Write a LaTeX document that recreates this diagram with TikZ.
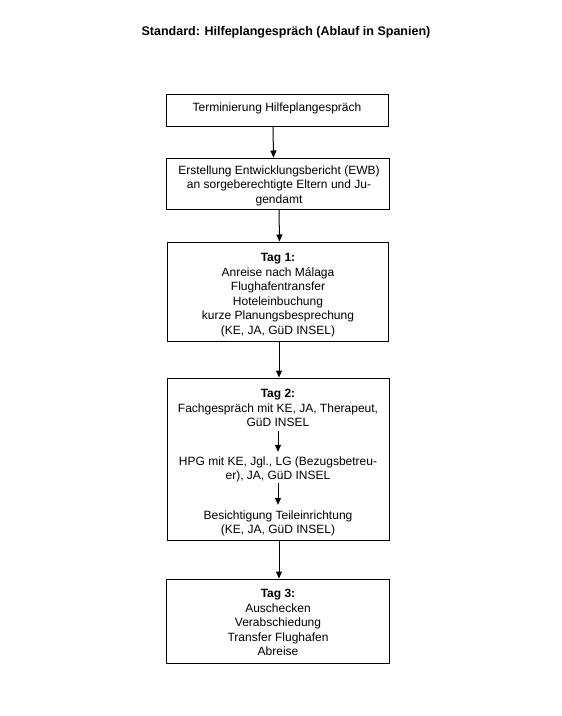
\documentclass[tikz,border=0pt]{standalone}
\usepackage{fontspec}
\setmainfont{Liberation Sans}
\usetikzlibrary{arrows.meta}
\begin{document}
\begin{tikzpicture}[x=1pt,y=-1pt,
  box/.style={draw, line width=1pt, inner sep=0pt},
  txt/.style={align=center, font=\fontsize{12}{14.5}\selectfont, inner sep=0pt},
  ttl/.style={font=\fontsize{12.5}{14}\selectfont\bfseries, inner sep=0pt},
  arr/.style={-{Triangle[length=7pt,width=6pt]}, line width=1pt}]
\useasboundingbox (0,0) rectangle (562,716);
\fill[white] (0,0) rectangle (562,716);

\node[ttl, anchor=base] (title) at (286,35) {Standard: Hilfeplangespräch (Ablauf in Spanien)};

\node[box, minimum width=222pt, minimum height=32pt] (b1) at (277,110) {};
\node[box, minimum width=223pt, minimum height=51pt] (b2) at (277.5,183.5) {};
\node[box, minimum width=221pt, minimum height=99.5pt] (b3) at (278,291.75) {};
\node[box, minimum width=222pt, minimum height=162pt] (b4) at (278,459) {};
\node[box, minimum width=223pt, minimum height=84pt] (b5) at (277.5,621) {};

\node[txt, anchor=base] (t1) at (277,111.5) {Terminierung Hilfeplangespräch};
\node[txt] (t2) at (279,185.85) {Erstellung Entwicklungsbericht (EWB)\\an sorgeberechtigte Eltern und Ju-\\gendamt};
\node[txt] (t3) at (278,294.95) {\textbf{Tag 1:}\\[0.5pt]Anreise nach Málaga\\Flughafentransfer\\Hoteleinbuchung\\kurze Planungsbesprechung\\(KE, JA, GüD INSEL)};
\node[txt] (t4a) at (278,407.95) {\textbf{Tag 2:}\\[0.5pt]Fachgespräch mit KE, JA, Therapeut,\\GüD INSEL};
\node[txt] (t4b) at (278,469.35) {HPG mit KE, Jgl., LG (Bezugsbetreu-\\er), JA, GüD INSEL};
\node[txt] (t4c) at (278,523.35) {Besichtigung Teileinrichtung\\(KE, JA, GüD INSEL)};
\node[txt] (t5) at (278,622.45) {\textbf{Tag 3:}\\[0.5pt]Auschecken\\Verabschiedung\\Transfer Flughafen\\Abreise};

\draw[arr] ([xshift=-4pt]b1.south) -- ([xshift=-4pt]b2.north);
\draw[arr] ([xshift=1.5pt]b2.south) -- ([xshift=1.5pt]b3.north);
\draw[arr] ([xshift=1pt]b3.south) -- ([xshift=1pt]b4.north);
\draw[arr] ([xshift=1pt]b4.south) -- ([xshift=1.5pt]b5.north);
\draw[arr, shorten <=4pt, shorten >=4.5pt] (t4a) -- (t4b);
\draw[arr, shorten <=1pt, shorten >=5.5pt] (t4b) -- (t4c);
\end{tikzpicture}
\end{document}
